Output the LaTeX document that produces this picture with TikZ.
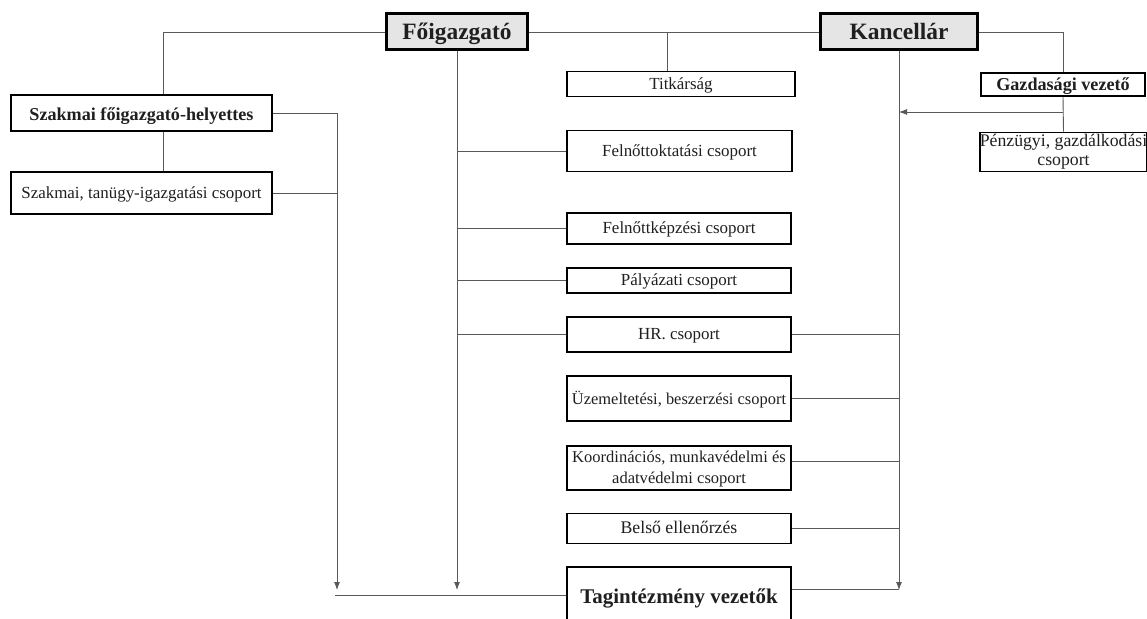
\documentclass[tikz,border=0pt]{standalone}
\usepackage{fontspec}
\setmainfont{Liberation Serif}
\usetikzlibrary{arrows.meta}
\begin{document}
\begin{tikzpicture}[x=1bp,y=-1bp,
  box/.style={draw=black, line width=1.6bp, fill=white, inner sep=0pt, text=black!88,
    font=\fontsize{17}{20}\selectfont},
  one/.style={text height=13bp, text depth=2bp},
  bbox/.style={box, text height=17bp, text depth=2bp, font=\fontsize{18.2}{21}\selectfont\bfseries},
  topbox/.style={draw=black, line width=3bp, fill=black!10, inner sep=0pt, text=black!88,
    text height=18bp, text depth=2bp, font=\fontsize{23.5}{26}\selectfont\bfseries},
  conn/.style={draw=black!65, line width=0.9bp},
  arr/.style={conn, -{Latex[length=8bp,width=6bp]}}
]
\useasboundingbox (0,0) rectangle (1147,619);
\clip (0,0) rectangle (1147,619);
\fill[white] (0,0) rectangle (1147,619);

% helper coordinates
\coordinate (lx) at (163,32);
\coordinate (tx) at (667,32);
\coordinate (ax) at (337,0);
\coordinate (at) at (0,590);
\coordinate (bl) at (0,595);
\coordinate (tr) at (0,589.5);
\coordinate (yarr) at (0,112);

% top boxes
\node[topbox, minimum width=141bp, minimum height=36bp] (fo) at (457,32) {Főigazgató};
\node[topbox, minimum width=157bp, minimum height=36bp] (kanc) at (899,32) {Kancellár};

% left column
\node[bbox, minimum width=261bp, minimum height=36bp] (szfh) at (141.5,113) {Szakmai főigazgató-helyettes};
\node[box, one, minimum width=261bp, minimum height=42bp] (sztan) at (141.5,193) {Szakmai, tanügy-igazgatási csoport};

% right column
\node[bbox, text height=15bp, minimum width=164bp, minimum height=23bp] (gazd) at (1063,84.5) {Gazdasági vezető};
\node[box, minimum width=167bp, minimum height=39bp, font=\fontsize{17.8}{19}\selectfont] (penz) at (1063.5,152) {\begin{tabular}{@{}c@{}}Pénzügyi, gazdálkodási\\csoport\end{tabular}};

% middle column
\node[box, one, minimum width=228bp, minimum height=25bp] (titk) at (681,84) {Titkárság};
\node[box, one, minimum width=225bp, minimum height=41bp] (felnokt) at (679.5,151.2) {Felnőttoktatási csoport};
\node[box, one, minimum width=224bp, minimum height=31bp] (felnkep) at (679,228.5) {Felnőttképzési csoport};
\node[box, one, minimum width=224bp, minimum height=25bp] (paly) at (679,280.5) {Pályázati csoport};
\node[box, one, minimum width=224bp, minimum height=35bp] (hr) at (679,334.5) {HR. csoport};
\node[box, one, minimum width=224bp, minimum height=45bp, font=\fontsize{16.5}{20}\selectfont] (uzem) at (679,398.5) {Üzemeltetési, beszerzési csoport};
\node[box, minimum width=224bp, minimum height=44bp, font=\fontsize{16.6}{21}\selectfont] (koord) at (679,468) {\begin{tabular}{@{}c@{}}\rule{0pt}{17bp}Koordinációs, munkavédelmi és\\adatvédelmi csoport\end{tabular}};
\node[box, one, minimum width=224bp, minimum height=30bp, font=\fontsize{17.8}{20}\selectfont] (belso) at (679,528.3) {Belső ellenőrzés};
\node[box, text height=11.6bp, text depth=2bp, minimum width=224bp, minimum height=63bp, font=\fontsize{21}{24}\selectfont\bfseries] (tag) at (679,598.5) {Tagintézmény vezetők};

\coordinate (ky) at ([yshift=7bp]koord.east);

% top connectors
\draw[conn] (fo.west) -| (lx |- szfh.north);
\draw[conn] (lx |- szfh.south) -- (lx |- sztan.north);
\draw[conn] (fo.east) -- (kanc.west);
\draw[conn] (tx) -- (tx |- titk.north);
\draw[conn] (kanc.east) -| (gazd.north);
\draw[conn] (gazd.south) -- (penz.north);
\draw[arr] (gazd.south |- yarr) -- (kanc.south |- yarr);

% left arrows
\draw[arr] (szfh.east) -| (ax |- at);
\draw[conn] (sztan.east) -- (ax |- sztan.east);
\draw[conn] ([xshift=-2bp]ax |- bl) -- (tag.west |- bl);

% Főigazgató vertical
\draw[arr] (fo.south) -- (fo.south |- at);
\draw[conn] (fo.south |- felnokt.west) -- (felnokt.west);
\draw[conn] (fo.south |- felnkep.west) -- (felnkep.west);
\draw[conn] (fo.south |- paly.west) -- (paly.west);
\draw[conn] (fo.south |- hr.west) -- (hr.west);

% Kancellár vertical
\draw[arr] (kanc.south) -- (kanc.south |- at);
\draw[conn] (hr.east) -- (kanc.south |- hr.east);
\draw[conn] (uzem.east) -- (kanc.south |- uzem.east);
\draw[conn] (ky) -- (kanc.south |- ky);
\draw[conn] (belso.east) -- (kanc.south |- belso.east);
\draw[conn] (tag.east |- tr) -- (kanc.south |- tr);
\end{tikzpicture}
\end{document}
